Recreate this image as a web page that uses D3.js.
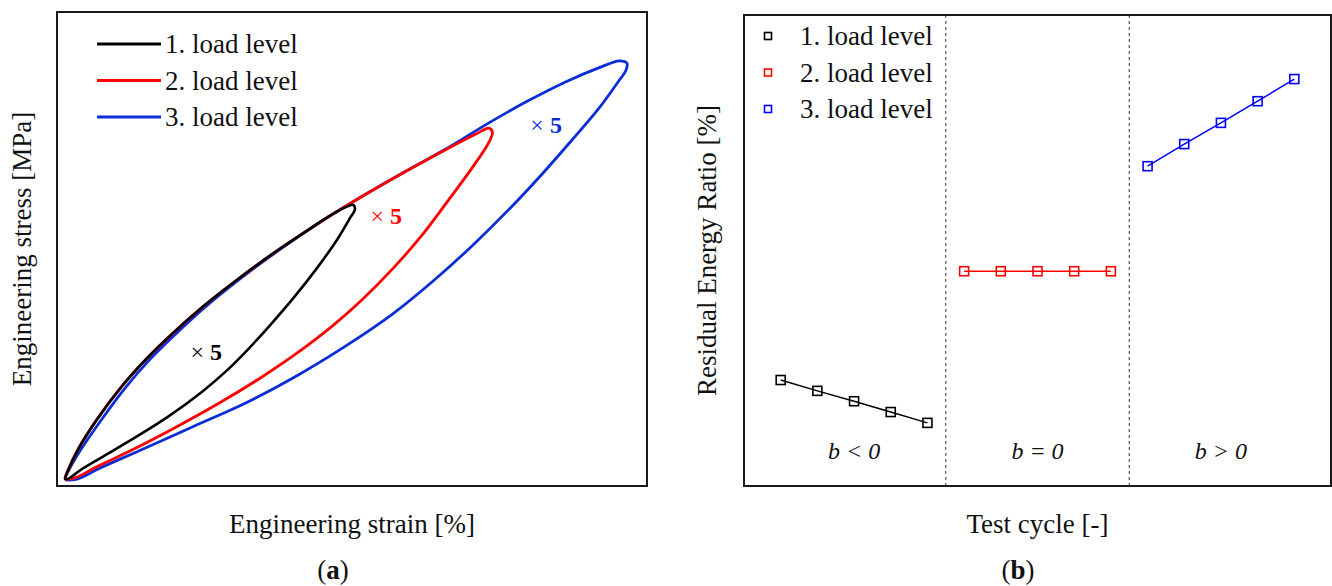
<!DOCTYPE html>
<html>
<head>
<meta charset="utf-8">
<script src="https://cdn.jsdelivr.net/npm/d3@7"></script>
<style>
  body { margin: 0; background: #fff; }
  svg text { font-family: "Liberation Serif", "Times New Roman", serif; fill: #111; }
</style>
</head>
<body>
<svg id="fig" width="1332" height="586"></svg>
<script>
// ---------- data ----------
const loadLevels = ["1. load level", "2. load level", "3. load level"];
const levelColors = ["#000000", "#ff0000", "#0a2ed6"];
const markerColors = ["#000000", "#ff0000", "#0000ff"];

// (a) stress-strain hysteresis loops, [strain, stress] in relative units (0-100)
const loop1 = [
  [1.4, 1.5], [1.8, 3.1], [3.6, 7.8], [6.8, 14.1], [11.1, 21.2], [15.3, 27.0],
  [19.6, 32.2], [24.6, 37.7], [30.3, 43.3], [36.1, 48.6], [41.8, 53.4], [46.8, 57.4],
  [50.2, 59.3], [50.5, 58.4], [49.6, 56.4], [47.5, 52.0], [43.9, 45.7], [40.3, 40.0],
  [36.1, 33.9], [32.5, 29.0], [28.9, 24.5], [24.6, 19.9], [18.9, 14.7], [13.2, 10.2],
  [7.5, 6.0], [3.9, 3.3], [2.0, 1.6]
];
const loop2 = [
  [1.4, 1.5], [1.8, 3.1], [3.6, 7.8], [6.8, 14.1], [11.1, 21.2], [15.3, 27.0],
  [19.6, 32.2], [24.6, 37.7], [30.3, 43.3], [36.1, 48.6], [41.8, 53.4], [46.8, 57.4],
  [50.9, 60.5], [54.6, 63.2], [60.3, 67.2], [66.1, 71.1], [71.1, 74.3], [73.2, 75.5],
  [73.8, 74.6], [73.2, 72.5], [70.3, 67.0], [66.1, 59.9], [61.8, 52.8], [56.8, 45.7],
  [51.8, 39.4], [46.8, 33.9], [40.3, 27.7], [34.6, 22.9], [27.5, 17.5], [20.3, 12.5],
  [13.2, 7.9], [6.8, 4.1], [3.2, 1.8]
];
const loop3 = [
  [1.4, 1.5], [1.8, 2.8], [3.8, 7.2], [7.2, 13.4], [11.5, 20.6], [15.6, 26.5],
  [19.9, 31.8], [24.8, 37.4], [30.4, 43.1], [36.2, 48.5], [41.9, 53.4], [46.9, 57.5],
  [51.0, 60.6], [54.7, 63.3], [60.4, 67.3], [66.2, 71.3], [73.2, 76.6], [79.6, 81.1],
  [86.1, 85.2], [91.8, 88.2], [95.3, 89.7], [96.6, 89.2], [96.4, 87.6], [95.3, 85.6],
  [91.8, 79.6], [87.5, 73.3], [82.5, 66.2], [76.8, 58.6], [70.3, 50.6], [63.9, 43.4],
  [56.8, 36.2], [48.9, 29.5], [40.3, 23.0], [31.8, 17.4], [23.2, 12.6], [14.6, 7.8],
  [7.5, 3.9], [3.2, 1.4]
];
const loops = [loop1, loop2, loop3];
const scaleNote = "× ";
const scaleFactor = "5";

// (b) residual energy ratio per test cycle
const cycles1 = [1, 2, 3, 4, 5];
const cycles2 = [6, 7, 8, 9, 10];
const cycles3 = [11, 12, 13, 14, 15];
const ratio1 = [22.5, 20.2, 18.0, 15.7, 13.4];
const ratio2 = [45.6, 45.6, 45.6, 45.6, 45.6];
const ratio3 = [67.9, 72.6, 77.1, 81.7, 86.4];
const regimeBounds = [5.5, 10.5];
const regimeLabels = ["b < 0", "b = 0", "b > 0"];
const regimeCenters = [3, 8, 13];

// ---------- drawing ----------
const svg = d3.select("#fig");
const FRAME = "#1a1a1a";
const FS = 27;

// ===== panel (a) =====
const xA = d3.scaleLinear().domain([0, 100]).range([57, 647]);
const yA = d3.scaleLinear().domain([0, 100]).range([486, 12]);

const gA = svg.append("g");
const loopLine = d3.line()
  .x(d => xA(d[0])).y(d => yA(d[1]))
  .curve(d3.curveCatmullRomClosed.alpha(0.5));

// draw the largest loop first so the first level stays on top
[2, 1, 0].forEach(i => {
  gA.append("path")
    .attr("d", loopLine(loops[i]))
    .attr("fill", "none")
    .attr("stroke", levelColors[i])
    .attr("stroke-width", i === 0 ? 2.6 : 2.8)
    .attr("stroke-linejoin", "round");
});

// scale-factor notes next to each loop
const notePos = [[25.3, 28.3], [55.8, 57.0], [82.9, 76.2]];
notePos.forEach((p, i) => {
  const t = gA.append("text")
    .attr("x", xA(p[0])).attr("y", yA(p[1]) + 8)
    .attr("text-anchor", "middle")
    .attr("font-size", 24)
    .style("fill", levelColors[i]);
  t.append("tspan").text(scaleNote);
  t.append("tspan").attr("font-weight", "bold").text(scaleFactor);
});

// frame
gA.append("rect")
  .attr("x", xA(0)).attr("y", yA(100))
  .attr("width", xA(100) - xA(0)).attr("height", yA(0) - yA(100))
  .attr("fill", "none").attr("stroke", FRAME).attr("stroke-width", 2);

// legend
const legA = gA.append("g");
loadLevels.forEach((name, i) => {
  const y = 44 + i * 36.5;
  legA.append("line")
    .attr("x1", 97).attr("x2", 161).attr("y1", y).attr("y2", y)
    .attr("stroke", levelColors[i]).attr("stroke-width", 3);
  legA.append("text")
    .attr("x", 165).attr("y", y + 9)
    .attr("font-size", FS).text(name);
});

// axis titles
gA.append("text")
  .attr("x", (xA(0) + xA(100)) / 2).attr("y", 533)
  .attr("text-anchor", "middle").attr("font-size", FS)
  .text("Engineering strain [%]");
gA.append("text")
  .attr("transform", `translate(31,${(yA(0) + yA(100)) / 2}) rotate(-90)`)
  .attr("text-anchor", "middle").attr("font-size", FS)
  .text("Engineering stress [MPa]");
const capA = gA.append("text")
  .attr("x", 333).attr("y", 579)
  .attr("text-anchor", "middle").attr("font-size", FS);
capA.append("tspan").text("(");
capA.append("tspan").attr("font-weight", "bold").text("a");
capA.append("tspan").text(")");

// ===== panel (b) =====
const xB = d3.scaleLinear().domain([0, 16]).range([744, 1331]);
const yB = d3.scaleLinear().domain([0, 100]).range([486, 15]);
const gB = svg.append("g");

// regime dividers
regimeBounds.forEach(c => {
  gB.append("line")
    .attr("x1", xB(c)).attr("x2", xB(c))
    .attr("y1", yB(100)).attr("y2", yB(0))
    .attr("stroke", "#333").attr("stroke-width", 1)
    .attr("stroke-dasharray", "3,3");
});

const seriesB = [
  { cycles: cycles1, ratio: ratio1 },
  { cycles: cycles2, ratio: ratio2 },
  { cycles: cycles3, ratio: ratio3 }
];
const lineB = d3.line().x(d => xB(d[0])).y(d => yB(d[1]));
const MS = 9;
seriesB.forEach((s, i) => {
  const pts = s.cycles.map((c, k) => [c, s.ratio[k]]);
  gB.append("path")
    .attr("d", lineB(pts))
    .attr("fill", "none")
    .attr("stroke", markerColors[i]).attr("stroke-width", 1.5);
  gB.selectAll(null).data(pts).enter().append("rect")
    .attr("x", d => xB(d[0]) - MS / 2).attr("y", d => yB(d[1]) - MS / 2)
    .attr("width", MS).attr("height", MS)
    .attr("fill", "none")
    .attr("stroke", markerColors[i]).attr("stroke-width", 1.6);
});

// regime labels
regimeLabels.forEach((lab, i) => {
  gB.append("text")
    .attr("x", xB(regimeCenters[i])).attr("y", yB(0) - 27)
    .attr("text-anchor", "middle")
    .attr("font-size", 24).attr("font-style", "italic")
    .text(lab);
});

// frame
gB.append("rect")
  .attr("x", xB(0)).attr("y", yB(100))
  .attr("width", xB(16) - xB(0)).attr("height", yB(0) - yB(100))
  .attr("fill", "none").attr("stroke", FRAME).attr("stroke-width", 2);

// legend
loadLevels.forEach((name, i) => {
  const y = 36 + i * 36.5;
  gB.append("rect")
    .attr("x", 768 - 3.5).attr("y", y - 3.5)
    .attr("width", 7).attr("height", 7)
    .attr("fill", "none").attr("stroke", markerColors[i]).attr("stroke-width", 1.6);
  gB.append("text")
    .attr("x", 800).attr("y", y + 9)
    .attr("font-size", FS).text(name);
});

// axis titles
gB.append("text")
  .attr("x", (xB(0) + xB(16)) / 2).attr("y", 533)
  .attr("text-anchor", "middle").attr("font-size", FS)
  .text("Test cycle [-]");
gB.append("text")
  .attr("transform", `translate(716,${(yB(0) + yB(100)) / 2}) rotate(-90)`)
  .attr("text-anchor", "middle").attr("font-size", FS)
  .text("Residual Energy Ratio [%]");
const capB = gB.append("text")
  .attr("x", 1018).attr("y", 579)
  .attr("text-anchor", "middle").attr("font-size", FS);
capB.append("tspan").text("(");
capB.append("tspan").attr("font-weight", "bold").text("b");
capB.append("tspan").text(")");
</script>
</body>
</html>
